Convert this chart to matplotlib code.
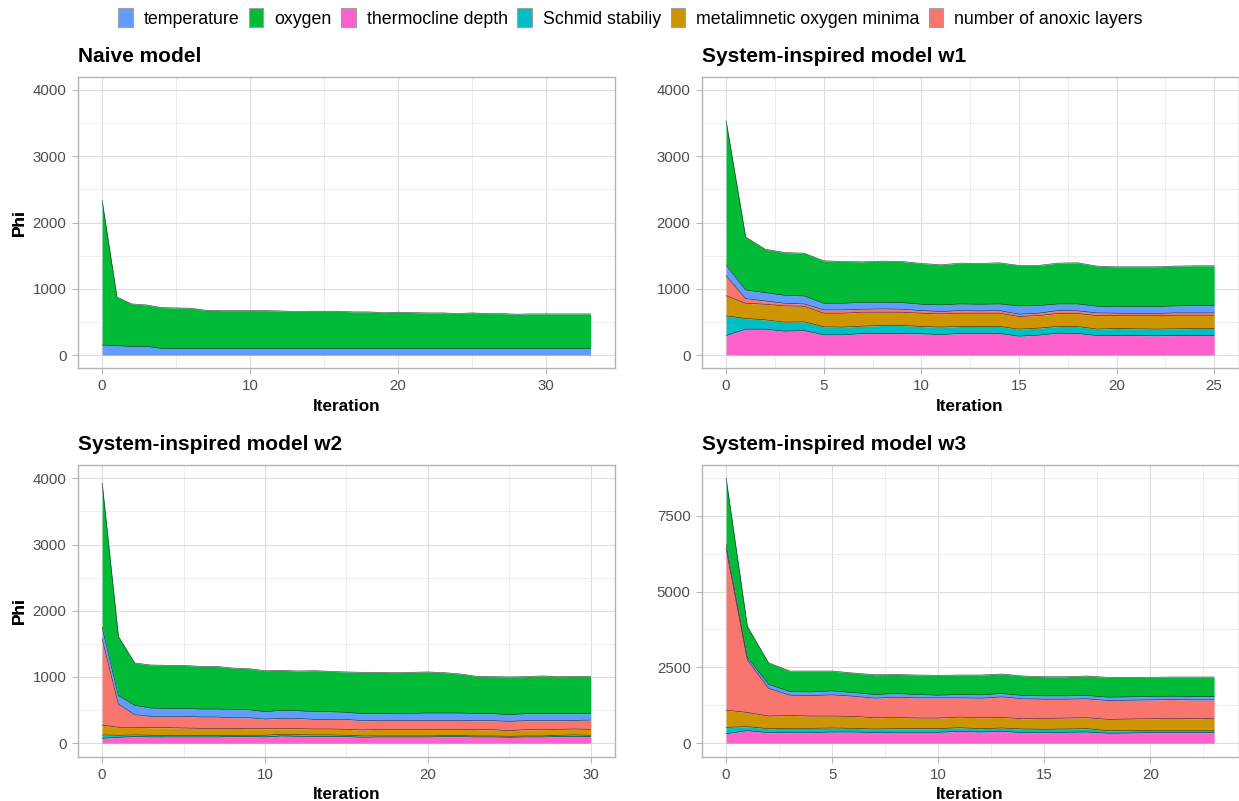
import numpy as np
import matplotlib
matplotlib.use("Agg")
import matplotlib.pyplot as plt
from matplotlib.patches import Patch
from matplotlib.ticker import MultipleLocator

plt.rcParams['font.family'] = ['Liberation Sans', 'DejaVu Sans']

# ---- series definitions -------------------------------------------------
legend_order = ["temperature", "oxygen", "thermocline depth", "Schmid stabiliy",
                "metalimnetic oxygen minima", "number of anoxic layers"]
stack_order = ["thermocline depth", "Schmid stabiliy", "metalimnetic oxygen minima",
               "number of anoxic layers", "temperature", "oxygen"]
colors = {
    "temperature": "#619CFF",
    "oxygen": "#00BA38",
    "thermocline depth": "#FF61CC",
    "Schmid stabiliy": "#00BFC4",
    "metalimnetic oxygen minima": "#CD9600",
    "number of anoxic layers": "#F8766D",
}

# ---- Naive model (iterations 0..33) -------------------------------------
naive_temperature = [150, 140, 130, 130] + [100] * 30
naive_oxygen = [2183, 736, 641, 626, 616, 611, 606, 576, 571, 571, 571, 571, 566, 556,
                561, 561, 561, 551, 551, 541, 546, 541, 536, 536, 526, 536, 526, 526,
                516, 521, 521, 521, 521, 521]

# ---- System-inspired model w1 (iterations 0..25) ------------------------
w1_thermocline = [295, 390, 390, 360, 370, 305, 305, 325, 325, 325, 320, 310, 325, 325,
                  325, 285, 300, 330, 325, 295, 295, 295, 290, 295, 295, 295]
w1_schmid = [296, 161, 141, 136, 131, 121, 116, 111, 121, 121, 111, 111, 106, 106, 106,
             106, 106, 101, 106, 96, 106, 101, 101, 101, 106, 106]
w1_metalimnetic = [305, 230, 235, 245, 235, 205, 210, 210, 200, 200, 200, 200, 200, 200,
                   200, 190, 190, 195, 195, 205, 195, 200, 205, 205, 200, 200]
w1_anoxic = [301, 70, 50, 40, 35, 50, 50, 45, 50, 45, 40, 35, 40, 35, 40, 35, 35, 45, 40,
             40, 35, 30, 30, 35, 35, 35]
w1_temperature = [160, 130, 125, 120, 120, 100, 100, 105, 100, 100, 95, 100, 100, 100,
                  100, 125, 115, 100, 105, 100, 100, 105, 105, 105, 110, 110]
w1_oxygen = [2178, 801, 656, 646, 646, 641, 631, 611, 621, 621, 616, 606, 616, 616, 621,
             611, 606, 616, 621, 606, 601, 601, 601, 601, 601, 601]

# ---- System-inspired model w2 (iterations 0..30) ------------------------
w2_thermocline = [75, 90, 100, 95, 95, 95, 95, 95, 100, 100, 95, 110, 105, 100, 100, 100,
                  90, 95, 95, 95, 95, 100, 100, 95, 95, 90, 95, 95, 100, 105, 100]
w2_schmid = [50, 30, 25, 25, 20, 20, 20, 20, 20, 20, 25, 25, 25, 25, 25, 20, 20, 15, 15,
             15, 15, 15, 15, 15, 15, 15, 15, 15, 20, 20, 20]
w2_metalimnetic = [150, 120, 115, 115, 120, 115, 110, 110, 105, 100, 100, 85, 90, 90, 90,
                   90, 90, 100, 100, 100, 100, 95, 95, 95, 95, 85, 95, 95, 90, 90, 90]
w2_anoxic = [1302, 351, 191, 171, 171, 176, 171, 171, 160, 165, 145, 155, 155, 145, 145,
             150, 140, 135, 135, 135, 135, 135, 135, 135, 135, 140, 135, 135, 130, 130, 140]
w2_temperature = [175, 130, 140, 125, 120, 120, 120, 120, 126, 121, 111, 121, 116, 116,
                  116, 106, 106, 101, 106, 106, 111, 111, 111, 106, 106, 101, 106, 106,
                  106, 101, 96]
w2_oxygen = [2178, 891, 641, 650, 650, 650, 645, 645, 625, 620, 620, 605, 600, 620, 610,
             610, 625, 625, 615, 620, 620, 610, 590, 565, 560, 570, 560, 570, 560, 565, 565]

# ---- System-inspired model w3 (iterations 0..23) ------------------------
w3_thermocline = [317, 415, 349, 349, 349, 371, 371, 349, 360, 360, 360, 393, 371, 393,
                  349, 349, 360, 371, 328, 338, 349, 349, 349, 349]
w3_schmid = [207, 131, 131, 142, 142, 131, 120, 120, 120, 120, 120, 120, 109, 109, 120,
             110, 109, 109, 87, 77, 77, 77, 77, 77]
w3_metalimnetic = [568, 469, 415, 426, 404, 393, 393, 372, 372, 350, 350, 349, 361, 350,
                   339, 360, 361, 361, 371, 382, 382, 393, 382, 393]
w3_anoxic = [5327, 1736, 917, 666, 677, 699, 666, 644, 665, 666, 666, 634, 644, 676, 655,
             633, 622, 622, 622, 622, 622, 622, 622, 611]
w3_temperature = [131, 87, 131, 120, 120, 131, 120, 120, 121, 109, 87, 109, 109, 110, 109,
                  109, 109, 109, 109, 109, 109, 109, 109, 109]
w3_oxygen = [2184, 1016, 710, 677, 688, 655, 644, 655, 633, 644, 655, 644, 655, 644, 644,
             633, 633, 644, 655, 644, 633, 633, 644, 644]

panel_titles = ["Naive model", "System-inspired model w1",
                "System-inspired model w2", "System-inspired model w3"]
panel_data = [
    {"temperature": naive_temperature, "oxygen": naive_oxygen},
    {"thermocline depth": w1_thermocline, "Schmid stabiliy": w1_schmid,
     "metalimnetic oxygen minima": w1_metalimnetic, "number of anoxic layers": w1_anoxic,
     "temperature": w1_temperature, "oxygen": w1_oxygen},
    {"thermocline depth": w2_thermocline, "Schmid stabiliy": w2_schmid,
     "metalimnetic oxygen minima": w2_metalimnetic, "number of anoxic layers": w2_anoxic,
     "temperature": w2_temperature, "oxygen": w2_oxygen},
    {"thermocline depth": w3_thermocline, "Schmid stabiliy": w3_schmid,
     "metalimnetic oxygen minima": w3_metalimnetic, "number of anoxic layers": w3_anoxic,
     "temperature": w3_temperature, "oxygen": w3_oxygen},
]
y_upper = [4000, 4000, 4000, None]      # fixed upper limit, None = data range
x_major = [10, 5, 10, 5]
y_major = [1000, 1000, 1000, 2500]

# ---- figure layout -------------------------------------------------------
W, H = 1239, 801
fig = plt.figure(figsize=(W / 100, H / 100), dpi=100)

def frac_box(left, top, right, bottom):
    return [left / W, 1 - bottom / H, (right - left) / W, (bottom - top) / H]

boxes = [frac_box(77.7, 76.7, 615, 368.3), frac_box(701.7, 76.7, 1238.5, 368.3),
         frac_box(77.7, 465, 615, 756.5), frac_box(701.7, 465, 1238.5, 756.5)]

border_col = "#B3B3B3"
grid_col = "#DEDEDE"
text_col = "#4D4D4D"

for i, box in enumerate(boxes):
    ax = fig.add_axes(box)
    data = panel_data[i]
    n = len(next(iter(data.values())))
    x = np.arange(n)
    base = np.zeros(n)
    for name in stack_order:
        if name not in data:
            continue
        top = base + np.asarray(data[name], dtype=float)
        ax.fill_between(x, base, top, color=colors[name], lw=0, zorder=2)
        ax.plot(x, top, color="#222222", lw=0.45, alpha=0.85, zorder=3)
        base = top

    ymax = y_upper[i] if y_upper[i] is not None else base.max()
    ax.set_ylim(-0.05 * ymax, ymax * 1.05)
    ax.set_xlim(-0.05 * (n - 1), (n - 1) * 1.05)

    ax.xaxis.set_major_locator(MultipleLocator(x_major[i]))
    ax.xaxis.set_minor_locator(MultipleLocator(x_major[i] / 2))
    ax.yaxis.set_major_locator(MultipleLocator(y_major[i]))
    ax.yaxis.set_minor_locator(MultipleLocator(y_major[i] / 2))
    ax.set_axisbelow(True)
    ax.grid(which="major", color=grid_col, lw=0.8, zorder=0)
    ax.grid(which="minor", color="#E8E8E8", lw=0.5, zorder=0)

    for sp in ax.spines.values():
        sp.set_color(border_col)
        sp.set_linewidth(1.0)
    ax.tick_params(which="major", length=4, width=0.7, color=border_col,
                   labelcolor=text_col, labelsize=10.8, pad=4)
    ax.tick_params(which="minor", length=0)

    ax.set_title(panel_titles[i], loc="left", fontsize=15, fontweight="bold", pad=10.8)
    ax.set_xlabel("Iteration", fontsize=12.3, fontweight="bold")
    ax.set_ylabel("Phi", fontsize=12.3, fontweight="bold")
    pw = box[2] * W
    ph = box[3] * H
    ax.xaxis.label.set_va("baseline")
    ax.xaxis.set_label_coords(0.5, -42.4 / ph)
    ax.yaxis.label.set_va("baseline")
    ax.yaxis.set_label_coords(-(box[0] * W - 24) / pw, 0.5)

# ---- shared legend -------------------------------------------------------
handles = [Patch(facecolor=colors[k], edgecolor="#A0A0A0", lw=0.8) for k in legend_order]
fig.legend(handles, legend_order, loc="center", bbox_to_anchor=(630.5 / W, 1 - 18 / H),
           ncol=6, frameon=False, fontsize=12.8, handlelength=0.8, handleheight=1.2,
           handletextpad=0.62, columnspacing=0.55, borderaxespad=0)

fig.savefig("out.png", dpi=100)
